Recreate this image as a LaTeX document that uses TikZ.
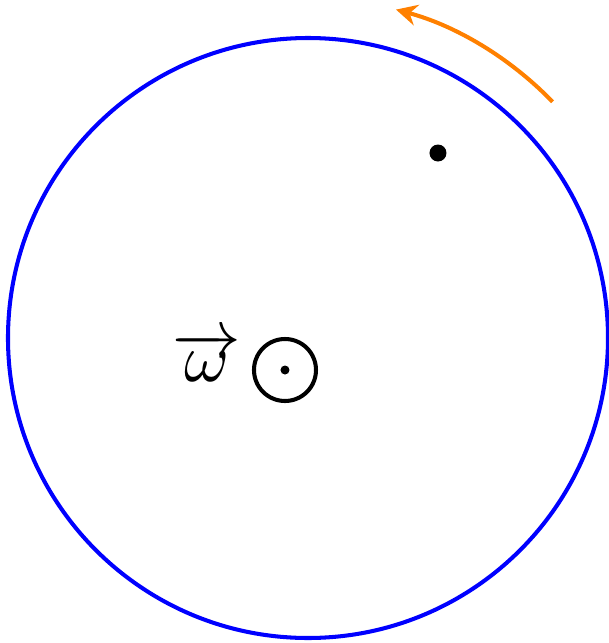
\documentclass[tikz,border=0pt]{standalone}
\usepackage{amsmath, amssymb}
\usetikzlibrary{arrows.meta, positioning}
\definecolor{rotorange}{HTML}{FF8000}

\begin{document}
\begin{tikzpicture}[
      disc/.style={draw=blue, line width=1.15pt},
      axis/.style={circle, draw=black, line width=1.15pt, minimum size=0.62cm, inner sep=0pt},
      pt/.style={circle, fill=black, inner sep=0pt, minimum size=0.17cm},
      ar/.style={-{Stealth[length=6pt,width=6pt,inset=2pt]}, rotorange, line width=1.15pt},
    ]
    \useasboundingbox (-3.08,-3.05) rectangle (3.01,3.38);
    \coordinate (o) at (0,0);
    \draw[disc] (o) circle (3);
    \node[axis] (ax) at (-0.23,-0.32) {};
    \fill (ax.center) circle (0.045);
    \node[pt] (m) at (1.30,1.85) {};
    \node (w) at (-1.01,-0.19) {\scalebox{1.95}{$\overrightarrow{\smash[t]{\omega}\rule{0pt}{3.5pt}}$}};

    \draw[ar] (44:3.4) arc[start angle=44, end angle=75, radius=3.4];
  \end{tikzpicture}
\end{document}
